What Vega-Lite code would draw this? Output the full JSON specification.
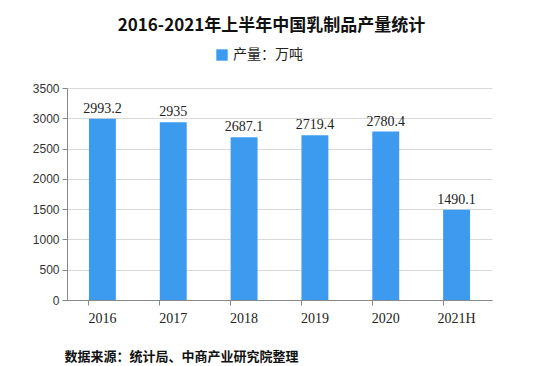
{
  "$schema": "https://vega.github.io/schema/vega-lite/v6.json",
  "autosize": {"type": "none"},
  "width": 425,
  "height": 212,
  "padding": {"left": 67, "top": 88, "right": 46, "bottom": 66},
  "background": "white",
  "title": {
    "text": "2016-2021年上半年中国乳制品产量统计",
    "font": "Noto Sans CJK SC",
    "fontSize": 17,
    "fontWeight": "bold",
    "color": "#111",
    "anchor": "middle",
    "dx": -8,
    "offset": 13
  },
  "data": {
    "values": [
      {"year": "2016", "value": 2993.2, "label": "2993.2", "series": "产量：万吨"},
      {"year": "2017", "value": 2935, "label": "2935", "series": "产量：万吨"},
      {"year": "2018", "value": 2687.1, "label": "2687.1", "series": "产量：万吨"},
      {"year": "2019", "value": 2719.4, "label": "2719.4", "series": "产量：万吨"},
      {"year": "2020", "value": 2780.4, "label": "2780.4", "series": "产量：万吨"},
      {"year": "2021H", "value": 1490.1, "label": "1490.1", "series": "产量：万吨"}
    ]
  },
  "encoding": {
    "x": {
      "field": "year",
      "type": "nominal",
      "sort": null,
      "scale": {"paddingInner": 0.62, "paddingOuter": 0.31},
      "axis": {
        "title": "数据来源：统计局、中商产业研究院整理",
        "titleFont": "Noto Sans CJK SC",
        "titleFontSize": 13,
        "titleFontWeight": "bold",
        "titleColor": "#111",
        "titleAnchor": "start",
        "titleAlign": "left",
        "titleX": -3,
        "titleY": 50,
        "labelAngle": 0,
        "labelFont": "Liberation Serif",
        "labelFontSize": 14,
        "labelColor": "#222",
        "labelPadding": 6,
        "bandPosition": 0,
        "tickColor": "#888",
        "tickSize": 5,
        "domainColor": "#888",
        "grid": false
      }
    },
    "y": {
      "field": "value",
      "type": "quantitative",
      "scale": {"domain": [0, 3500]},
      "axis": {
        "title": null,
        "values": [0, 500, 1000, 1500, 2000, 2500, 3000, 3500],
        "format": "d",
        "labelFont": "Liberation Sans",
        "labelFontSize": 12,
        "labelColor": "#333",
        "labelPadding": 3,
        "tickColor": "#888",
        "tickSize": 5,
        "domainColor": "#888",
        "gridColor": "#d9d9d9"
      }
    }
  },
  "layer": [
    {
      "mark": {"type": "bar", "color": "#3d9bef"},
      "encoding": {
        "color": {
          "field": "series",
          "type": "nominal",
          "scale": {"range": ["#3d9bef"]},
          "legend": {
            "title": null,
            "orient": "none",
            "legendX": 148,
            "legendY": -40,
            "symbolType": "square",
            "symbolSize": 130,
            "symbolStrokeWidth": 0,
            "labelFont": "Noto Sans CJK SC",
            "labelFontSize": 14,
            "labelColor": "#222"
          }
        }
      }
    },
    {
      "mark": {"type": "text", "dy": -10, "font": "Liberation Serif", "fontSize": 14, "color": "#222"},
      "encoding": {"text": {"field": "label"}}
    }
  ],
  "config": {"view": {"stroke": null}}
}
